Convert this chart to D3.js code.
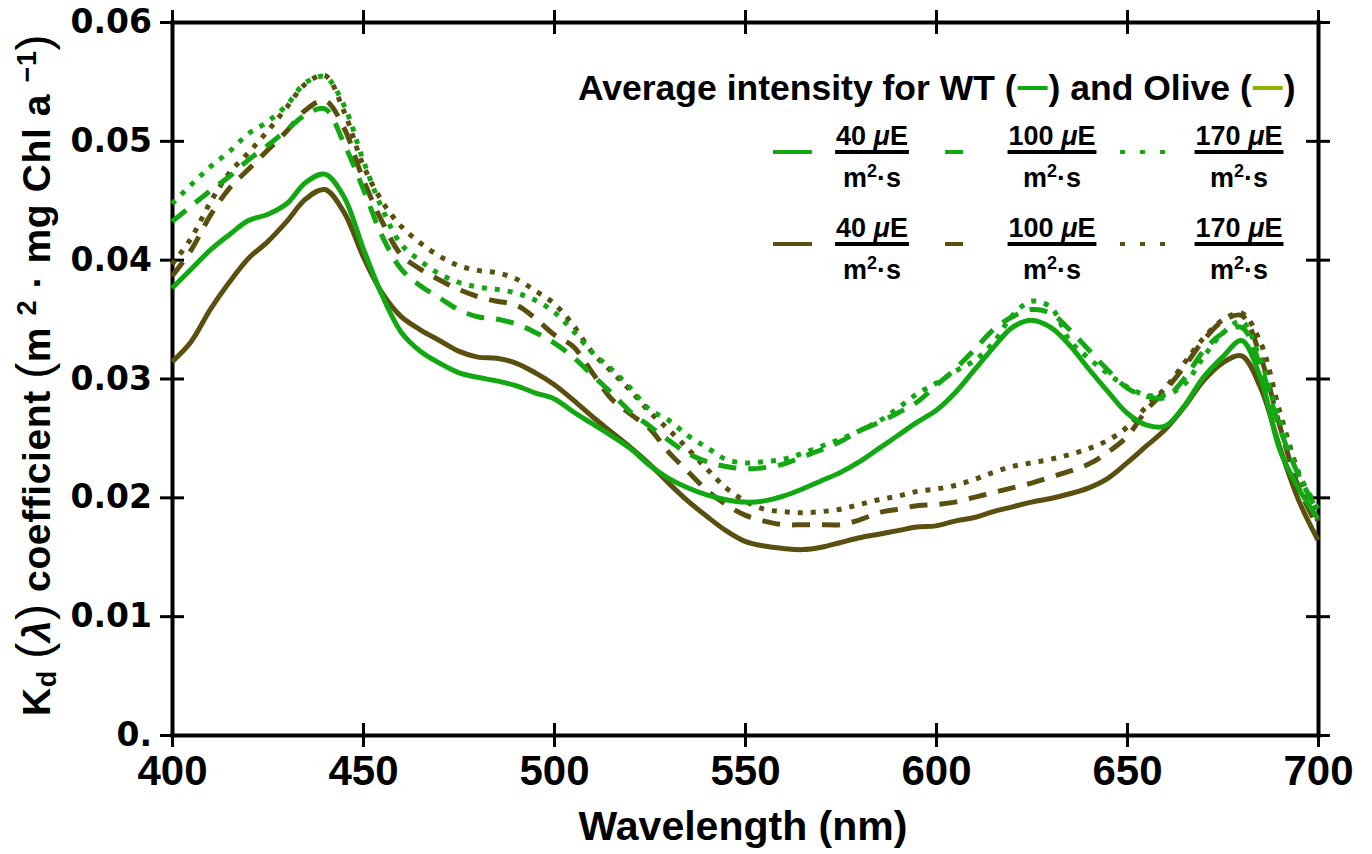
<!DOCTYPE html>
<html>
<head>
<meta charset="utf-8">
<script src="https://cdn.jsdelivr.net/npm/d3@7"></script>
<style>
  body { margin: 0; background: #fff; }
  svg { display: block; }
</style>
</head>
<body>
<div id="chart"></div>
<script>
// wavelength grid (nm)
const wavelength = [400, 405, 410, 415, 420, 425, 430, 435, 440, 445, 450, 455, 460, 465, 470, 475, 480, 485, 490, 495,
  500, 505, 510, 515, 520, 525, 530, 535, 540, 545, 550, 555, 560, 565, 570, 575, 580, 585, 590, 595,
  600, 605, 610, 615, 620, 625, 630, 635, 640, 645, 650, 655, 660, 665, 670, 675, 680, 685, 690, 695, 700];

// Kd values
const wt40 = [0.0376, 0.0392, 0.0408, 0.0421, 0.0433, 0.0438, 0.0447, 0.0465, 0.0472, 0.0453, 0.0410, 0.0370, 0.0339, 0.0323, 0.0313, 0.0305, 0.0301, 0.0298, 0.0294, 0.0288,
  0.0283, 0.0272, 0.0262, 0.0252, 0.0241, 0.0227, 0.0216, 0.0208, 0.0202, 0.0198, 0.0196, 0.0197, 0.0201, 0.0207, 0.0214, 0.0221, 0.0230, 0.0241, 0.0252, 0.0263,
  0.0273, 0.0288, 0.0307, 0.0326, 0.0343, 0.0349, 0.0343, 0.0328, 0.0308, 0.0289, 0.0271, 0.0261, 0.0260, 0.0277, 0.0301, 0.0318, 0.0332, 0.0300, 0.0240, 0.0207, 0.0182];
const wt100 = [0.0432, 0.0445, 0.0458, 0.0470, 0.0484, 0.0496, 0.0509, 0.0522, 0.0527, 0.0498, 0.0460, 0.0420, 0.0392, 0.0378, 0.0368, 0.0358, 0.0352, 0.0350, 0.0346, 0.0339,
  0.0330, 0.0318, 0.0303, 0.0288, 0.0272, 0.0260, 0.0248, 0.0237, 0.0230, 0.0226, 0.0224, 0.0225, 0.0228, 0.0234, 0.0240, 0.0247, 0.0256, 0.0263, 0.0271, 0.0280,
  0.0294, 0.0308, 0.0324, 0.0341, 0.0352, 0.0358, 0.0355, 0.0341, 0.0324, 0.0307, 0.0292, 0.0285, 0.0284, 0.0300, 0.0323, 0.0338, 0.0343, 0.0310, 0.0258, 0.0218, 0.0188];
const wt170 = [0.0447, 0.0463, 0.0478, 0.0491, 0.0506, 0.0516, 0.0530, 0.0549, 0.0554, 0.0530, 0.0484, 0.0443, 0.0413, 0.0399, 0.0388, 0.0381, 0.0377, 0.0375, 0.0372, 0.0366,
  0.0356, 0.0340, 0.0322, 0.0308, 0.0292, 0.0274, 0.0265, 0.0252, 0.0242, 0.0232, 0.0229, 0.0230, 0.0232, 0.0237, 0.0243, 0.0249, 0.0256, 0.0264, 0.0275, 0.0287,
  0.0296, 0.0306, 0.0315, 0.0330, 0.0353, 0.0365, 0.0360, 0.0332, 0.0317, 0.0304, 0.0293, 0.0286, 0.0286, 0.0295, 0.0318, 0.0338, 0.0348, 0.0315, 0.0265, 0.0220, 0.0190];
const olive40 = [0.0314, 0.0331, 0.0358, 0.0381, 0.0401, 0.0415, 0.0432, 0.0451, 0.0459, 0.0440, 0.0403, 0.0372, 0.0352, 0.0341, 0.0332, 0.0323, 0.0318, 0.0317, 0.0313, 0.0305,
  0.0295, 0.0282, 0.0268, 0.0255, 0.0242, 0.0228, 0.0212, 0.0197, 0.0184, 0.0172, 0.0163, 0.0159, 0.0157, 0.0156, 0.0158, 0.0162, 0.0166, 0.0169, 0.0172, 0.0175,
  0.0176, 0.0180, 0.0183, 0.0188, 0.0192, 0.0196, 0.0199, 0.0203, 0.0208, 0.0216, 0.0229, 0.0243, 0.0257, 0.0276, 0.0298, 0.0313, 0.0319, 0.0292, 0.0242, 0.0197, 0.0164];
const olive100 = [0.0386, 0.0408, 0.0437, 0.0460, 0.0476, 0.0492, 0.0508, 0.0526, 0.0534, 0.0511, 0.0468, 0.0432, 0.0404, 0.0392, 0.0383, 0.0375, 0.0369, 0.0365, 0.0362, 0.0351,
  0.0337, 0.0327, 0.0305, 0.0283, 0.0270, 0.0258, 0.0238, 0.0222, 0.0206, 0.0194, 0.0185, 0.0180, 0.0177, 0.0177, 0.0177, 0.0177, 0.0181, 0.0187, 0.0190, 0.0193,
  0.0194, 0.0196, 0.0200, 0.0204, 0.0208, 0.0212, 0.0217, 0.0222, 0.0228, 0.0238, 0.0251, 0.0273, 0.0290, 0.0310, 0.0332, 0.0348, 0.0353, 0.0318, 0.0260, 0.0208, 0.0175];
const olive170 = [0.0396, 0.0418, 0.0448, 0.0473, 0.0490, 0.0508, 0.0528, 0.0548, 0.0555, 0.0525, 0.0480, 0.0449, 0.0428, 0.0414, 0.0403, 0.0395, 0.0391, 0.0389, 0.0384, 0.0374,
  0.0363, 0.0345, 0.0322, 0.0306, 0.0290, 0.0272, 0.0257, 0.0241, 0.0224, 0.0208, 0.0197, 0.0190, 0.0188, 0.0187, 0.0188, 0.0190, 0.0194, 0.0198, 0.0201, 0.0205,
  0.0207, 0.0210, 0.0215, 0.0221, 0.0226, 0.0229, 0.0232, 0.0236, 0.0241, 0.0248, 0.0259, 0.0276, 0.0292, 0.0313, 0.0334, 0.0349, 0.0355, 0.0330, 0.0272, 0.0220, 0.0180];

const xTicks = [400, 450, 500, 550, 600, 650, 700];
const yTicks = [0, 0.01, 0.02, 0.03, 0.04, 0.05, 0.06];
const yTickLabels = ["0.", "0.01", "0.02", "0.03", "0.04", "0.05", "0.06"];
const intensities = ["40", "100", "170"];
const groups = ["WT", "Olive"];

const wtColor = "#12a812";
const oliveColor = "#5a4f0e";
const oliveKeyColor = "#8ab400";
const dashes = [null, "18,12", "5,8"];

const svg = d3.select("#chart")
  .append("svg")
    .attr("width", 1372)
    .attr("height", 854);

const xScale = d3.scaleLinear().domain([400, 700]).range([172, 1318]);
const yScale = d3.scaleLinear().domain([0, 0.06]).range([735, 22]);

// frame axes with crossing ticks
const tick = 12;
const styleAxis = (g) => {
  g.select(".domain").attr("stroke-width", 4).attr("stroke-linecap", "square");
  g.selectAll(".tick line").attr("stroke-width", 3);
};

svg.append("g")
  .attr("transform", "translate(0,735)")
  .call(d3.axisBottom(xScale).tickValues(xTicks).tickSize(tick).tickSizeOuter(0).tickPadding(8))
  .call(styleAxis)
  .call(g => g.selectAll(".tick line").attr("y1", -tick))
  .call(g => g.selectAll(".tick text")
    .style("font-family", "'Liberation Sans', Arial, sans-serif")
    .style("font-weight", "bold")
    .style("font-size", "42px")
    .attr("fill", "#000"));

svg.append("g")
  .attr("transform", "translate(0,22)")
  .call(d3.axisTop(xScale).tickValues(xTicks).tickSize(tick).tickSizeOuter(0).tickFormat(""))
  .call(styleAxis)
  .call(g => g.selectAll(".tick line").attr("y1", tick));

svg.append("g")
  .attr("transform", "translate(172,0)")
  .call(d3.axisLeft(yScale).tickValues(yTicks).tickSize(tick).tickSizeOuter(0).tickPadding(8)
    .tickFormat((d, i) => yTickLabels[i]))
  .call(styleAxis)
  .call(g => g.selectAll(".tick line").attr("x1", tick))
  .call(g => g.selectAll(".tick text")
    .style("font-family", "'DejaVu Sans', sans-serif")
    .style("font-weight", "bold")
    .style("font-size", "33px")
    .attr("fill", "#000"));

svg.append("g")
  .attr("transform", "translate(1318,0)")
  .call(d3.axisRight(yScale).tickValues(yTicks).tickSize(tick).tickSizeOuter(0).tickFormat(""))
  .call(styleAxis)
  .call(g => g.selectAll(".tick line").attr("x1", -tick));

// axis titles
svg.append("text")
  .attr("x", 743)
  .attr("y", 840)
  .attr("text-anchor", "middle")
  .style("font-family", "'Liberation Sans', Arial, sans-serif")
  .style("font-weight", "bold")
  .style("font-size", "41px")
  .text("Wavelength (nm)");

const yLabel = svg.append("text")
  .attr("transform", "translate(50,375) rotate(-90)")
  .attr("text-anchor", "middle")
  .style("font-family", "'Liberation Sans', Arial, sans-serif")
  .style("font-weight", "bold")
  .style("font-size", "39px")
  .style("letter-spacing", "0.6px");
yLabel.append("tspan").text("K");
yLabel.append("tspan").attr("dy", 6).style("font-size", "27px").text("d");
yLabel.append("tspan").attr("dy", -6).text(" ");
yLabel.append("tspan").style("font-weight", "normal").style("font-size", "48px").text("(");
yLabel.append("tspan").style("font-style", "italic").text("λ");
yLabel.append("tspan").style("font-weight", "normal").style("font-size", "48px").text(")");
yLabel.append("tspan").text(" coefficient  ");
yLabel.append("tspan").style("font-weight", "normal").style("font-size", "48px").text("(");
yLabel.append("tspan").text("m ");
yLabel.append("tspan").attr("dy", -14).style("font-size", "27px").text("2");
yLabel.append("tspan").attr("dy", 14).text(" · mg Chl a ");
yLabel.append("tspan").attr("dy", -14).style("font-size", "27px").text("−1");
yLabel.append("tspan").attr("dy", 14).style("font-weight", "normal").style("font-size", "48px").text(")");

// curves
const series = [
  {values: olive40, color: oliveColor, dash: dashes[0]},
  {values: olive100, color: oliveColor, dash: dashes[1]},
  {values: olive170, color: oliveColor, dash: dashes[2]},
  {values: wt40, color: wtColor, dash: dashes[0]},
  {values: wt100, color: wtColor, dash: dashes[1]},
  {values: wt170, color: wtColor, dash: dashes[2]}
];

const line = d3.line()
  .x((d, i) => xScale(wavelength[i]))
  .y(d => yScale(d))
  .curve(d3.curveCatmullRom);

svg.append("g")
  .selectAll("path")
  .data(series)
  .join("path")
    .attr("d", d => line(d.values))
    .attr("fill", "none")
    .attr("stroke", d => d.color)
    .attr("stroke-width", 5)
    .attr("stroke-dasharray", d => d.dash);

// legend title with coloured keys
const titleFont = g => g
  .style("font-family", "'Liberation Sans', Arial, sans-serif")
  .style("font-weight", "bold")
  .style("font-size", "35.5px");
const titleParts = [
  {text: "Average intensity for WT (", key: wtColor},
  {text: ") and Olive (", key: oliveKeyColor},
  {text: ")", key: null}
];
let tx = 578;
titleParts.forEach(p => {
  const t = svg.append("text").attr("x", tx).attr("y", 100).call(titleFont).text(p.text);
  tx += t.node().getComputedTextLength();
  if (p.key) {
    svg.append("line")
      .attr("x1", tx + 1).attr("x2", tx + 31)
      .attr("y1", 88).attr("y2", 88)
      .attr("stroke", p.key).attr("stroke-width", 4);
    tx += 32;
  }
});

// legend entries
const sampleX = [773, 945, 1120];
const sampleLen = [39, 18, 45];
const fracX = [872, 1052, 1239];
const rowY = [152, 244];
const groupColor = [wtColor, oliveColor];
const legendDash = [null, null, "5,15"];

const legendFont = g => g
  .attr("text-anchor", "middle")
  .style("font-family", "'Liberation Sans', Arial, sans-serif")
  .style("font-weight", "bold")
  .style("font-size", "27px");

groups.forEach((g, r) => {
  intensities.forEach((v, c) => {
    svg.append("line")
      .attr("x1", sampleX[c]).attr("x2", sampleX[c] + sampleLen[c])
      .attr("y1", rowY[r]).attr("y2", rowY[r])
      .attr("stroke", groupColor[r])
      .attr("stroke-width", 4)
      .attr("stroke-dasharray", legendDash[c]);

    const num = svg.append("text")
      .attr("x", fracX[c]).attr("y", rowY[r] - 7)
      .call(legendFont);
    num.append("tspan").text(v + " ");
    num.append("tspan").style("font-style", "italic").text("μ");
    num.append("tspan").text("E");
    const w = num.node().getComputedTextLength();

    svg.append("line")
      .attr("x1", fracX[c] - w / 2 - 1).attr("x2", fracX[c] + w / 2 + 1)
      .attr("y1", rowY[r]).attr("y2", rowY[r])
      .attr("stroke", "#000").attr("stroke-width", 4);

    const den = svg.append("text")
      .attr("x", fracX[c]).attr("y", rowY[r] + 35)
      .call(legendFont);
    den.append("tspan").text("m");
    den.append("tspan").attr("dy", -10).style("font-size", "18px").text("2");
    den.append("tspan").attr("dy", 10).text("·s");
  });
});
</script>
</body>
</html>
